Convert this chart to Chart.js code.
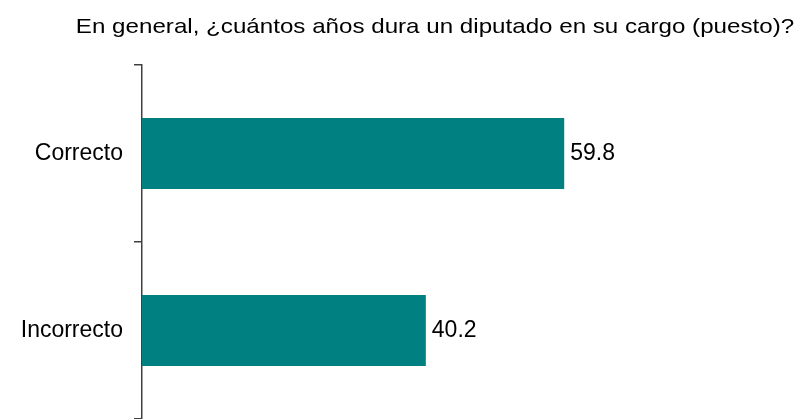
<!DOCTYPE html>
<html>
<head>
<meta charset="utf-8">
<script src="https://cdn.jsdelivr.net/npm/chart.js@4/dist/chart.umd.min.js"></script>
<style>
html,body{margin:0;padding:0;background:#fff;}
#wrap{width:800px;height:419px;}
</style>
</head>
<body>
<div id="wrap"><canvas id="c" width="800" height="419"></canvas></div>
<script>
const titleText = 'En general, ¿cuántos años dura un diputado en su cargo (puesto)?';
const categories = ['Correcto', 'Incorrecto'];
const values = [59.8, 40.2];
const valueLabels = ['59.8', '40.2'];

const FONT = '"Liberation Sans", Arial, sans-serif';

const titlePlugin = {
  id: 'wideTitle',
  afterDraw(chart) {
    const ctx = chart.ctx;
    const cx = (chart.chartArea.left + chart.chartArea.right) / 2;
    ctx.save();
    ctx.font = '21px ' + FONT;
    ctx.fillStyle = '#000';
    ctx.textAlign = 'center';
    ctx.textBaseline = 'alphabetic';
    const sx = 1.15;
    ctx.translate(cx, 33);
    ctx.scale(sx, 1);
    ctx.fillText(titleText, 0, 0);
    ctx.restore();
  }
};

const valueLabelPlugin = {
  id: 'valueLabels',
  afterDatasetsDraw(chart) {
    const ctx = chart.ctx;
    const meta = chart.getDatasetMeta(0);
    ctx.save();
    ctx.font = '23px ' + FONT;
    ctx.fillStyle = '#000';
    ctx.textAlign = 'left';
    ctx.textBaseline = 'middle';
    meta.data.forEach((bar, i) => {
      ctx.fillText(valueLabels[i], bar.x + 6, bar.y);
    });
    ctx.restore();
  }
};

new Chart(document.getElementById('c'), {
  type: 'bar',
  data: {
    labels: categories,
    datasets: [{
      data: values,
      backgroundColor: '#008080',
      borderWidth: 0,
      barPercentage: 0.8,
      categoryPercentage: 0.5
    }]
  },
  options: {
    indexAxis: 'y',
    responsive: false,
    animation: false,
    layout: { padding: { left: 0, right: 72, top: 65, bottom: 0 } },
    plugins: {
      legend: { display: false },
      tooltip: { enabled: false },
      title: { display: false }
    },
    scales: {
      x: {
        display: false,
        min: 0,
        max: 83
      },
      y: {
        afterFit(scale) {
          scale.width = 142;
          scale.paddingTop = 0;
          scale.paddingBottom = 0;
        },
        border: { display: true, color: '#404040', width: 1.5 },
        grid: { drawOnChartArea: false, drawTicks: true, tickLength: 8, color: '#404040', lineWidth: 1.5, offset: true },
        ticks: {
          color: '#000',
          padding: 11,
          font: { family: FONT, size: 23 }
        }
      }
    }
  },
  plugins: [valueLabelPlugin, titlePlugin]
});
</script>
</body>
</html>
